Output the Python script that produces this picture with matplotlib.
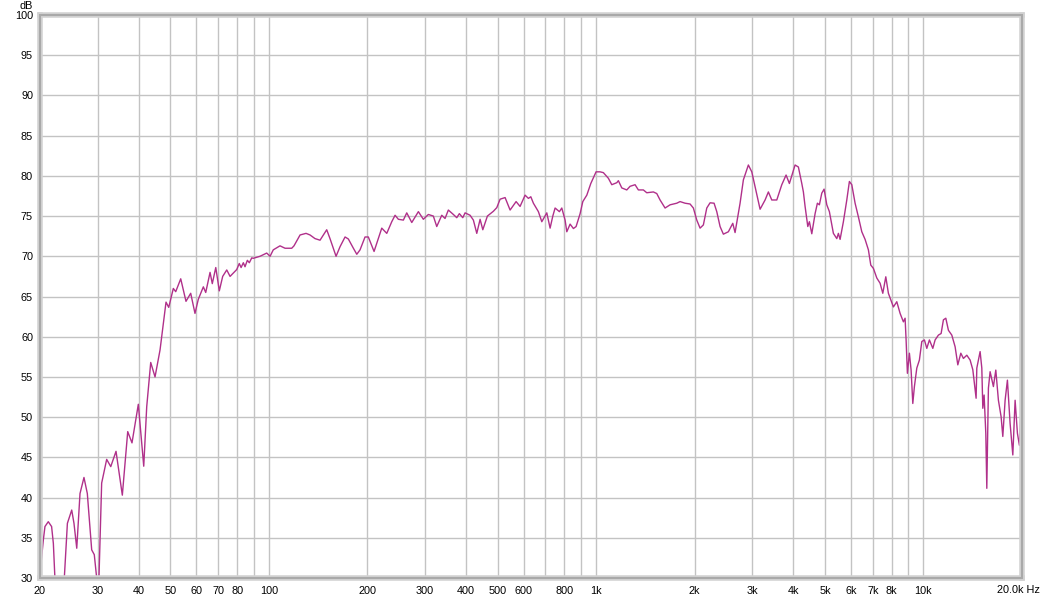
import matplotlib
matplotlib.use("Agg")
import matplotlib.pyplot as plt
from matplotlib.ticker import FixedLocator, NullLocator
from matplotlib.patches import Rectangle

# Frequency response data (Hz, dB)
freq_hz = [
    20.1, 20.47, 20.71, 21.2, 21.7, 21.97, 22.2, 22.9, 23.73, 24.25, 25.0, 25.4, 25.9,
    26.5, 27.25, 27.9, 28.77, 29.3, 29.8, 30.0, 30.28, 30.86, 31.97, 32.9, 34.14,
    35.69, 37.07, 38.2, 39.94, 41.49, 42.37, 43.58, 44.92, 46.53, 48.53, 49.46,
    51.09, 51.96, 53.82, 55.85, 57.73, 59.5, 60.9, 63.1, 64.17, 66.15, 67.2, 68.87,
    70.6, 72.3, 74.4, 76.15, 79.8, 81.25, 82.3, 83.6, 84.6, 86.0, 87.2, 88.7, 89.7,
    94.0, 98.55, 100.9, 103.2, 108.2, 112.1, 117.5, 119.4, 124.6, 129.95, 133.65,
    138.4, 143.4, 150.3, 153.8, 160.5, 165.1, 171.0, 175.0, 181.3, 185.7, 190.0,
    196.8, 201.4, 209.7, 221.35, 229.3, 237.5, 243.1, 248.8, 257.7, 263.9, 273.4,
    286.4, 296.6, 307.2, 318.2, 325.9, 337.6, 345.5, 353.6, 366.3, 375.2, 382.1,
    391.4, 397.8, 412.0, 421.7, 431.9, 442.1, 450.6, 465.4, 485.5, 497.2, 508.9,
    527.1, 546.0, 569.5, 585.7, 606.7, 621.0, 631.6, 643.2, 666.2, 682.4, 706.8,
    723.4, 737.3, 749.3, 772.3, 785.4, 803.9, 813.6, 832.7, 852.3, 868.6, 893.4,
    910.5, 936.5, 963.2, 999.6, 1028.1, 1052.2, 1090.0, 1116.4, 1156.4, 1169.4,
    1197.7, 1240.6, 1269.7, 1315.1, 1346.0, 1394.2, 1427.9, 1495.8, 1532.0, 1568.0,
    1624.1, 1682.3, 1763.4, 1804.8, 1869.4, 1936.4, 1981.9, 2029.9, 2077.5, 2126.3,
    2177.8, 2228.9, 2292.5, 2336.5, 2391.4, 2447.5, 2535.1, 2614.8, 2657.4, 2752.6,
    2817.3, 2918.1, 2988.8, 3059.1, 3168.6, 3282.0, 3359.1, 3440.4, 3563.6, 3691.2,
    3804.6, 3894.0, 4053.3, 4148.6, 4249.0, 4297.1, 4348.8, 4432.2, 4482.4, 4558.7,
    4665.8, 4741.9, 4809.1, 4891.0, 4970.8, 5066.1, 5159.6, 5306.8, 5435.3, 5496.8,
    5562.9, 5693.5, 5831.4, 5939.0, 6040.2, 6182.0, 6327.3, 6480.5, 6632.7, 6788.5,
    6904.0, 7031.4, 7201.6, 7370.7, 7512.1, 7672.4, 7814.0, 8093.8, 8289.7, 8484.4,
    8683.8, 8788.2, 8850.3, 8931.6, 9058.1, 9167.0, 9277.4, 9382.5, 9542.2, 9718.3,
    9884.0, 10067, 10238, 10427, 10680, 10854, 11109, 11322, 11507, 11703, 11919,
    12207, 12494, 12733, 13005, 13245, 13565, 13884, 14150, 14482, 14554, 14896,
    15075, 15181, 15320, 15504, 15614, 15791, 15981, 16356, 16634, 16942, 17267,
    17474, 17760, 18050, 18396, 18749, 19054, 19365, 19640, 19834, 19974,
]
level_db = [
    31.4, 34.7, 36.4, 37.0, 36.4, 34.3, 30.2, 26.0, 30.0, 36.8, 38.45, 36.8, 33.7,
    40.5, 42.5, 40.5, 33.5, 32.9, 30.0, 25.0, 30.0, 41.8, 44.75, 43.85, 45.75,
    40.3, 48.2, 46.8, 51.6, 43.9, 51.3, 56.8, 55.0, 58.35, 64.3, 63.65,
    66.0, 65.6, 67.2, 64.4, 65.4, 62.9, 64.65, 66.2, 65.5, 68.0, 66.6, 68.6,
    65.7, 67.5, 68.3, 67.5, 68.35, 69.1, 68.6, 69.2, 68.7, 69.5, 69.2, 69.8, 69.75,
    70.0, 70.4, 70.0, 70.8, 71.3, 71.0, 71.0, 71.3, 72.65, 72.85, 72.65,
    72.2, 72.0, 73.3, 72.2, 70.0, 71.2, 72.4, 72.15, 71.0, 70.25, 70.8,
    72.4, 72.4, 70.6, 73.5, 72.85, 74.3, 75.1, 74.6, 74.5, 75.4, 74.2,
    75.55, 74.6, 75.2, 75.0, 73.7, 75.1, 74.7, 75.75, 75.2, 74.8, 75.3,
    74.8, 75.4, 75.1, 74.5, 72.85, 74.6, 73.3, 75.0, 75.6, 76.05, 77.1,
    77.3, 75.75, 76.8, 76.2, 77.6, 77.2, 77.4, 76.6, 75.55, 74.3, 75.4,
    73.5, 75.0, 76.0, 75.55, 76.0, 74.5, 73.05, 74.0, 73.45, 73.7, 75.3,
    76.8, 77.6, 79.05, 80.5, 80.5, 80.4, 79.7, 78.9, 79.15, 79.4,
    78.5, 78.25, 78.7, 78.9, 78.25, 78.25, 77.9, 78.0, 77.8, 77.0,
    76.0, 76.4, 76.6, 76.8, 76.6, 76.5, 76.0, 74.5, 73.5, 73.9,
    76.0, 76.65, 76.6, 75.55, 73.7, 72.75, 73.05, 74.1, 72.95, 76.6,
    79.5, 81.35, 80.5, 78.65, 75.85, 77.0, 78.0, 77.0, 77.0, 78.9,
    80.1, 79.05, 81.35, 81.1, 79.05, 78.0, 76.2, 73.7, 74.3, 72.8,
    75.3, 76.6, 76.4, 77.85, 78.35, 76.4, 75.55, 72.85, 72.2, 72.85,
    72.1, 74.3, 77.0, 79.3, 78.9, 76.6, 74.9, 73.05, 72.1, 70.8,
    68.9, 68.5, 67.3, 66.65, 65.4, 67.45, 65.4, 63.7, 64.35, 62.9,
    61.85, 62.3, 59.6, 55.45, 57.95, 55.85, 51.7, 53.8, 56.1, 57.1,
    59.4, 59.6, 58.55, 59.6, 58.55, 59.6, 60.2, 60.4, 62.1, 62.3, 60.8,
    60.2, 58.75, 56.5, 57.95, 57.3, 57.7, 57.1, 55.9, 52.35, 56.1, 58.15,
    56.1, 51.1, 52.75, 48.0, 41.15, 53.6, 55.65, 53.8, 55.85, 52.1, 50.05,
    47.6, 52.1, 54.6, 49.2, 45.3, 52.1, 48.0, 46.5, 50.5, 46.75,
]

grid_freqs = [20, 30, 40, 50, 60, 70, 80, 90, 100, 200, 300, 400, 500, 600, 700,
              800, 900, 1000, 2000, 3000, 4000, 5000, 6000, 7000, 8000, 9000,
              10000, 20000]
label_freqs = [20, 30, 40, 50, 60, 70, 80, 100, 200, 300, 400, 500, 600, 800,
               1000, 2000, 3000, 4000, 5000, 6000, 7000, 8000, 10000]
label_texts = ["20", "30", "40", "50", "60", "70", "80", "100", "200", "300",
               "400", "500", "600", "800", "1k", "2k", "3k", "4k", "5k", "6k",
               "7k", "8k", "10k"]
y_ticks = [30, 35, 40, 45, 50, 55, 60, 65, 70, 75, 80, 85, 90, 95, 100]

W, H = 1041, 598
fig = plt.figure(figsize=(W / 100, H / 100), dpi=100)
ax = fig.add_axes([40 / W, 20 / H, 982 / W, 563 / H])

fnt = "Liberation Sans"
fs = 7.8

ax.set_xscale("log")
ax.set_xlim(20, 20000)
ax.set_ylim(30, 100)

for f in grid_freqs:
    ax.axvline(f, color="#c3c3c3", lw=1.0, zorder=1)
for y in y_ticks:
    ax.axhline(y, color="#c3c3c3", lw=1.0, zorder=1)

ax.plot(freq_hz, level_db, color="#b0308a", lw=1.0, zorder=3)

ax.xaxis.set_major_locator(FixedLocator(label_freqs))
ax.xaxis.set_minor_locator(NullLocator())
ax.set_xticklabels(label_texts, fontfamily=fnt, fontsize=fs)
ax.set_yticks(y_ticks)
ax.set_yticklabels([str(v) for v in y_ticks], fontfamily=fnt, fontsize=fs)
ax.tick_params(axis="both", length=0, pad=5, colors="black")
ax.tick_params(axis="x", pad=6)

for side, sp in ax.spines.items():
    sp.set_color("#d2d2d2")
    sp.set_linewidth(4)
    sp.set_zorder(5)
ax.add_patch(Rectangle((0, 0), 1, 1, transform=ax.transAxes, fill=False,
                       edgecolor="#a9a9a9", lw=1.5, clip_on=False, zorder=6))

fig.text(1018 / W, 1 - 590 / H, "20.0k Hz", ha="center", va="center",
         fontfamily=fnt, fontsize=fs)
fig.text(26 / W, 1 - 6 / H, "dB", ha="center", va="center",
         fontfamily=fnt, fontsize=fs)

fig.savefig("out.png", dpi=100, facecolor="white")
